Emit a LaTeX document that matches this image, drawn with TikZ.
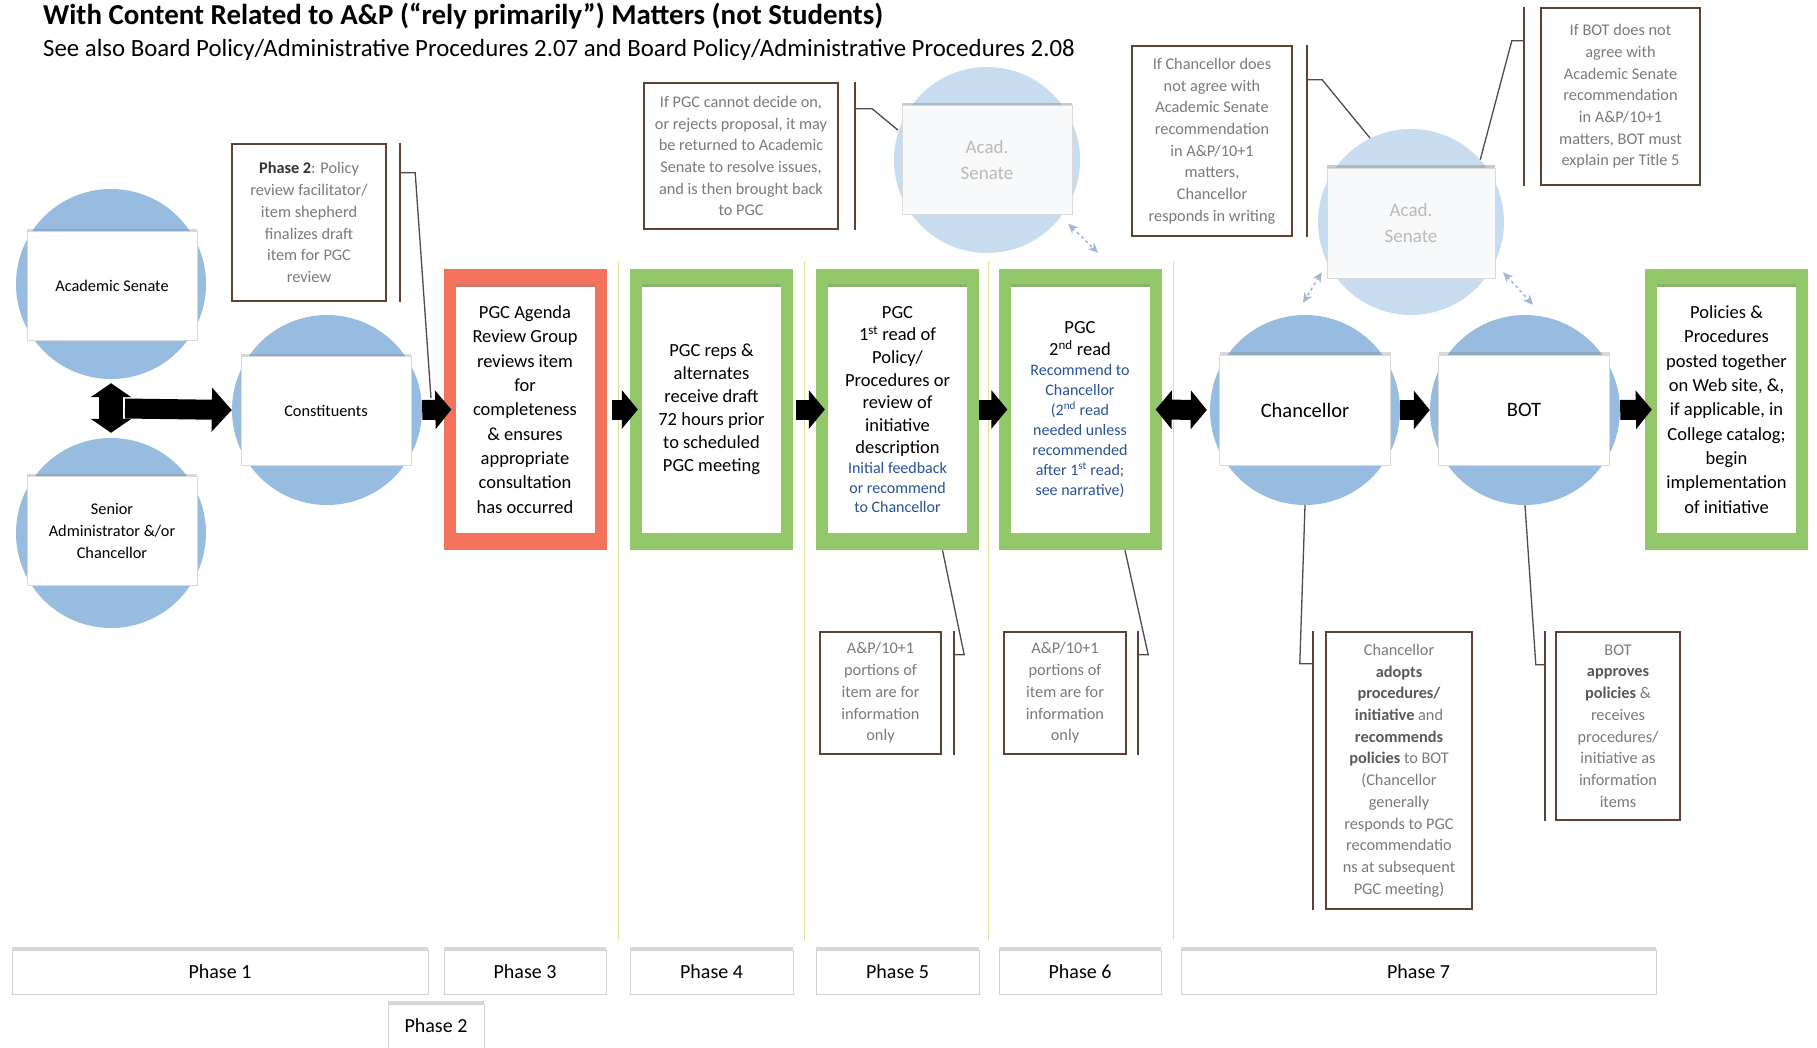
\documentclass[tikz,border=0pt]{standalone}
\usepackage{fontspec}
\setmainfont{Carlito}
\usetikzlibrary{arrows.meta,calc,shadows}

\definecolor{circblue}{RGB}{152,188,224}
\definecolor{paleblue}{RGB}{200,220,240}
\definecolor{stagegreen}{RGB}{146,200,106}
\definecolor{stagered}{RGB}{243,114,92}
\definecolor{notebrown}{RGB}{96,64,50}
\definecolor{notegray}{RGB}{122,122,122}
\definecolor{readblue}{RGB}{40,82,150}
\definecolor{phaseline}{RGB}{226,224,150}
\definecolor{dashblue}{RGB}{162,182,212}

\newcommand{\bluetxt}[1]{{\color{readblue}\fontsize{16}{19}\selectfont #1}}
\newcommand{\keytxt}[1]{{\color{black!65}\bfseries #1}}

\begin{document}
\begin{tikzpicture}[x=1pt,y=-1pt,
	roundbg/.style={circle,fill=circblue,minimum size=190pt,inner sep=0pt},
	palebg/.style={circle,fill=paleblue,minimum size=186pt,inner sep=0pt},
	actor/.style={fill=white,draw=gray!30,minimum width=170pt,minimum height=109pt,inner sep=0pt,align=center,
		font=\fontsize{16.3}{22}\selectfont,drop shadow={shadow xshift=0pt,shadow yshift=3pt,opacity=0.3}},
	bigactor/.style={actor,minimum width=171pt,minimum height=110pt,font=\fontsize{20.5}{24}\selectfont},
	paleactor/.style={actor,fill opacity=0.92,text opacity=1,text=gray!55,font=\fontsize{19}{26.5}\selectfont,
		drop shadow={shadow xshift=0pt,shadow yshift=3pt,opacity=0.15}},
	stage/.style={fill=#1,minimum width=163pt,minimum height=281pt,inner sep=0pt},
	stagetext/.style={fill=white,minimum width=139pt,minimum height=246pt,inner sep=0pt,align=center,
		font=\fontsize{18.5}{#1}\selectfont,drop shadow={shadow xshift=0pt,shadow yshift=3pt,opacity=0.3}},
	note/.style={draw=notebrown,line width=2.4pt,fill=white,inner sep=0pt,align=center,text=notegray,
		font=\fontsize{16.3}{21.7}\selectfont},
	bracket/.style={notebrown,line width=2.4pt},
	callout/.style={black!70,line width=1.3pt},
	phase/.style={fill=white,draw=gray!35,minimum height=44pt,inner sep=0pt,font=\fontsize{20}{24}\selectfont,
		drop shadow={shadow xshift=0pt,shadow yshift=3pt,opacity=0.3}},
	flow/.style={line width=20pt,-{Triangle[length=16pt,width=38pt]}},
	twoway/.style={line width=20pt,{Triangle[length=16pt,width=38pt]}-{Triangle[length=16pt,width=38pt]}},
	updown/.style={line width=24pt,{Triangle[length=14pt,width=40pt]}-{Triangle[length=14pt,width=40pt]},shorten <=4pt,shorten >=5pt},
	feedback/.style={dashblue,dashed,line width=1.5pt,{Stealth[length=10pt,width=9pt]}-{Stealth[length=10pt,width=9pt]}},
	divider/.style={phaseline,line width=1pt}
]
\fill[white] (0,0) rectangle (1817,1047);
\useasboundingbox (0,0) rectangle (1817,1047);

\node[anchor=west,inner sep=0pt,font=\bfseries\fontsize{28.9}{32}\selectfont] (title) at (43,16) {With Content Related to A\&P (``rely primarily'') Matters (not Students)};
\node[anchor=west,inner sep=0pt,font=\fontsize{24.8}{28}\selectfont] (subtitle) at (43,50) {See also Board Policy/Administrative Procedures 2.07 and Board Policy/Administrative Procedures 2.08};

\foreach \x in {618,804,988,1173}
	\draw[divider] (\x,261) -- (\x,940);

\node[roundbg] (asbg) at (111,284) {};
\node[roundbg] (sabg) at (111,533) {};
\node[roundbg] (consbg) at (327,410) {};
\node[roundbg] (chancbg) at (1305,410) {};
\node[roundbg] (botbg) at (1525,410) {};
\node[palebg] (acadfbg) at (987,160) {};
\node[palebg] (acadgbg) at (1411,222) {};

\node[actor] (as) at (112,286) {Academic Senate};
\node[actor] (sa) at (112,531) {Senior\\Administrator \&/or\\Chancellor};
\node[actor] (cons) at (326,411) {Constituents};
\node[bigactor] (chanc) at (1305,410) {Chancellor};
\node[bigactor] (bot) at (1524,410) {BOT};
\node[paleactor] (acadf) at (987,160) {Acad.\\Senate};
\node[paleactor,minimum width=168pt,minimum height=110pt] (acadg) at (1411,223) {Acad.\\Senate};

\node[stage=stagered] (agenda) at (525,409.5) {};
\node[stagetext=24.3] (agendatxt) at (agenda) {PGC Agenda\\Review Group\\reviews item\\for\\completeness\\\& ensures\\appropriate\\consultation\\has occurred};
\node[stage=stagegreen] (reps) at (711.5,409.5) {};
\node[stagetext=23] (repstxt) at (reps) {PGC reps \&\\alternates\\receive draft\\72 hours prior\\to scheduled\\PGC meeting};
\node[stage=stagegreen] (read1) at (897.5,409.5) {};
\node[stagetext=22.6] (read1txt) at (read1) {PGC\\1\textsuperscript{st} read of\\Policy/\\Procedures or\\review of\\initiative\\description\\[-3pt]\bluetxt{Initial feedback}\\[-3pt]\bluetxt{or recommend}\\[-3pt]\bluetxt{to Chancellor}};
\node[stage=stagegreen] (read2) at (1080,409.5) {};
\node[stagetext=22] (read2txt) at (read2) {PGC\\2\textsuperscript{nd} read\\[-2pt]\bluetxt{Recommend to}\\[-2pt]\bluetxt{Chancellor}\\[-2pt]\bluetxt{(2\textsuperscript{nd} read}\\[-2pt]\bluetxt{needed unless}\\[-2pt]\bluetxt{recommended}\\[-2pt]\bluetxt{after 1\textsuperscript{st} read;}\\[-2pt]\bluetxt{see narrative)}};
\node[stage=stagegreen] (posted) at (1726.5,409.5) {};
\node[stagetext=24.3] (postedtxt) at (posted) {Policies \&\\Procedures\\posted together\\on Web site, \&,\\if applicable, in\\College catalog;\\begin\\implementation\\of initiative};

\draw[updown] (asbg.south) -- (sabg.north);
\coordinate (hub) at ($(asbg.south)!0.5!(sabg.north)$);
\draw[flow,-{Triangle[length=20pt,width=43pt]}] ([xshift=14pt]hub) -- (consbg.west);
\draw[flow] (consbg.east) -- ([xshift=8pt]agenda.west);
\draw[flow] ([xshift=5pt]agenda.east) -- ([xshift=8pt]reps.west);
\draw[flow] ([xshift=3pt]reps.east) -- ([xshift=9pt]read1.west);
\draw[flow] (read1.east) -- ([xshift=9pt]read2.west);
\draw[twoway] ([xshift=-6pt]read2.east) -- ([xshift=-3pt]chancbg.west);
\draw[flow] (chancbg.east) -- (botbg.west);
\draw[flow] (botbg.east) -- ([xshift=7pt]posted.west);

\draw[feedback] ($(acadf.south east)+(-4,9)$) -- ($(read2.north)+(18,-16)$);
\draw[feedback] ($(acadg.south west)+(-5,-6)$) -- ($(chancbg.north)+(-2,-12)$);
\draw[feedback] ($(acadg.south east)+(8,-6)$) -- ($(botbg.north)+(8,-10)$);

\node[note,minimum width=154pt,minimum height=157pt] (facnote) at (309,222.5) {{\color{black!80}\bfseries Phase 2}: Policy\\review facilitator/\\item shepherd\\finalizes draft\\item for PGC\\review};
\draw[bracket] ($(facnote.north east)+(13,0)$) -- ($(facnote.south east)+(13,0)$);
\coordinate (factip) at (431,398);
\draw[callout] ($(facnote.north east)+(13,30)$) -- ++(15,0) -- (factip);

\node[note,minimum width=194pt,minimum height=146pt] (returnnote) at (741,156) {If PGC cannot decide on,\\or rejects proposal, it may\\be returned to Academic\\Senate to resolve issues,\\and is then brought back\\to PGC};
\draw[bracket] ($(returnnote.north east)+(16,0)$) -- ($(returnnote.south east)+(16,0)$);
\draw[callout] ($(returnnote.north east)+(16,27)$) -- ++(17,0) -- ($(acadf.west)+(-4,-30)$);

\node[note,minimum width=160pt,minimum height=190pt] (disagreenote) at (1212,141) {If Chancellor does\\not agree with\\Academic Senate\\recommendation\\in A\&P/10+1\\matters,\\Chancellor\\responds in writing};
\draw[bracket] ($(disagreenote.north east)+(14,0)$) -- ($(disagreenote.south east)+(14,0)$);
\draw[callout] ($(disagreenote.north east)+(14,35)$) -- ++(15,0) -- (acadgbg.116);

\node[note,minimum width=159pt,minimum height=177pt] (titlefivenote) at (1620.5,96.5) {If BOT does not\\agree with\\Academic Senate\\recommendation\\in A\&P/10+1\\matters, BOT must\\explain per Title 5};
\draw[bracket] ($(titlefivenote.north west)+(-16,0)$) -- ($(titlefivenote.south west)+(-16,0)$);
\draw[callout] ($(titlefivenote.north west)+(-16,34)$) -- ++(-12,0) -- (acadgbg.42);

\node[note,minimum width=121pt,minimum height=122pt] (infonote) at (880.5,693) {A\&P/10+1\\portions of\\item are for\\information\\only};
\draw[bracket] ($(infonote.north east)+(12,0)$) -- ($(infonote.south east)+(12,0)$);
\draw[callout] ($(infonote.north east)+(12,24)$) -- ++(10,0) -- ($(read1.south)+(45,0)$);

\node[note,minimum width=122pt,minimum height=122pt] (infonoteb) at (1065,693) {A\&P/10+1\\portions of\\item are for\\information\\only};
\draw[bracket] ($(infonoteb.north east)+(11,0)$) -- ($(infonoteb.south east)+(11,0)$);
\draw[callout] ($(infonoteb.north east)+(11,24)$) -- ++(10,0) -- ($(read2.south)+(45,0)$);

\node[note,minimum width=146pt,minimum height=277pt] (adoptnote) at (1399,770.5) {Chancellor\\\keytxt{adopts}\\\keytxt{procedures/}\\\keytxt{initiative} and\\\keytxt{recommends}\\\keytxt{policies} to BOT\\(Chancellor\\generally\\responds to PGC\\recommendatio\\ns at subsequent\\PGC meeting)};
\draw[bracket] ($(adoptnote.north west)+(-12,0)$) -- ($(adoptnote.south west)+(-12,0)$);
\draw[callout] ($(adoptnote.north west)+(-12,33)$) -- ++(-13,0) -- (chancbg.south);

\node[note,minimum width=124pt,minimum height=188pt] (approvenote) at (1618,726) {BOT\\\keytxt{approves}\\\keytxt{policies} \&\\receives\\procedures/\\initiative as\\information\\items};
\draw[bracket] ($(approvenote.north west)+(-10,0)$) -- ($(approvenote.south west)+(-10,0)$);
\draw[callout] ($(approvenote.north west)+(-10,34)$) -- ++(-9,0) -- (botbg.south);

\node[phase,minimum width=416pt] (ph1) at (220,972) {Phase 1};
\node[phase,minimum width=96pt] (ph2) at (436,1026) {Phase 2};
\node[phase,minimum width=162pt] (ph3) at (525,972) {Phase 3};
\node[phase,minimum width=163pt] (ph4) at (711.5,972) {Phase 4};
\node[phase,minimum width=163pt] (ph5) at (897.5,972) {Phase 5};
\node[phase,minimum width=162pt] (ph6) at (1080,972) {Phase 6};
\node[phase,minimum width=475pt] (ph7) at (1418.5,972) {Phase 7};
\end{tikzpicture}
\end{document}
